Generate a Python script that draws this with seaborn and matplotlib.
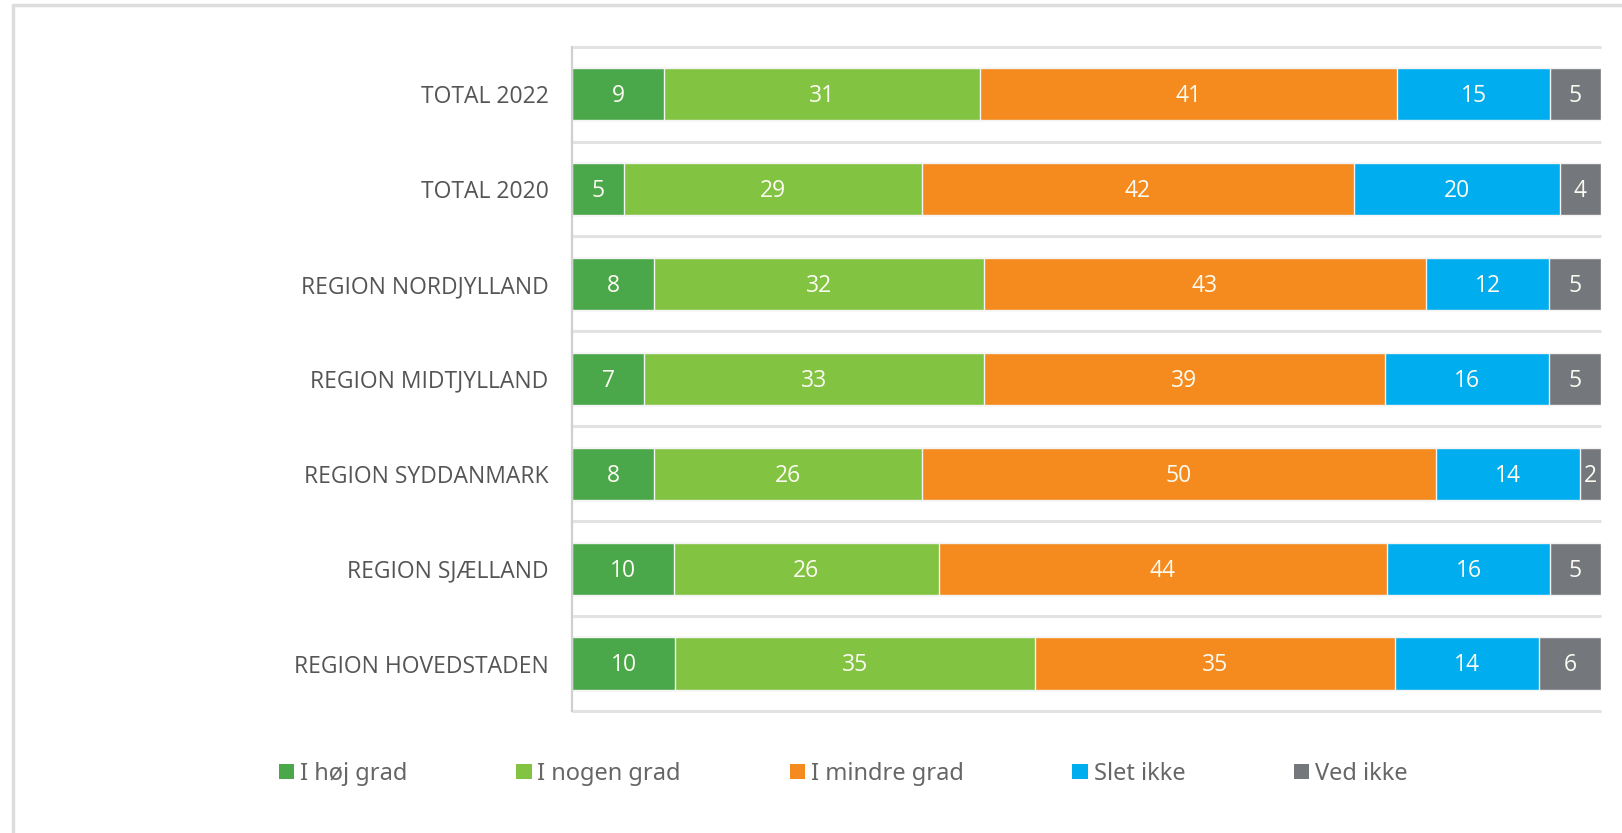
"""Stacked horizontal bars: share of answers per region."""

import matplotlib.pyplot as plt
import numpy as np
import pandas as pd
import seaborn as sns
from matplotlib.lines import Line2D
from matplotlib.patches import Patch


CATEGORIES = [
    "TOTAL 2022",
    "TOTAL 2020",
    "REGION NORDJYLLAND",
    "REGION MIDTJYLLAND",
    "REGION SYDDANMARK",
    "REGION SJÆLLAND",
    "REGION HOVEDSTADEN",
]
SERIES = ["I høj grad", "I nogen grad", "I mindre grad", "Slet ikke", "Ved ikke"]

HOEJ_GRAD = [9, 5, 8, 7, 8, 10, 10]
NOGEN_GRAD = [31, 29, 32, 33, 26, 26, 35]
MINDRE_GRAD = [41, 42, 43, 39, 50, 44, 35]
SLET_IKKE = [15, 20, 12, 16, 14, 16, 14]
VED_IKKE = [5, 4, 5, 5, 2, 5, 6]

COLORS = ["#4aa84a", "#82c341", "#f58b1f", "#00aeef", "#74777c"]
TEXT_GRAY = "#555555"


def main() -> None:
    sns.set_theme(style="white")
    plt.rcParams["font.family"] = ["Open Sans", "DejaVu Sans"]

    values = np.array([HOEJ_GRAD, NOGEN_GRAD, MINDRE_GRAD, SLET_IKKE, VED_IKKE], dtype=float)
    shares = values / values.sum(axis=0) * 100
    cumulative = np.cumsum(shares, axis=0)

    fig = plt.figure(figsize=(16.22, 8.33), dpi=100)
    ax = fig.add_axes([0.3527, 0.1465, 0.987 - 0.3527, 0.944 - 0.1465])

    # draw cumulative bars from the full length down so each segment shows
    for i in reversed(range(len(SERIES))):
        frame = pd.DataFrame({"category": CATEGORIES, "value": cumulative[i]})
        sns.barplot(
            data=frame,
            x="value",
            y="category",
            order=CATEGORIES,
            color=COLORS[i],
            saturation=1,
            width=0.55,
            errorbar=None,
            edgecolor="#f4f4f4",
            linewidth=1.0,
            ax=ax,
        )

    for i in range(len(SERIES)):
        starts = cumulative[i] - shares[i]
        for row, (start, width) in enumerate(zip(starts, shares[i])):
            ax.text(
                start + width / 2,
                row + 0.02,
                f"{values[i, row]:.0f}",
                ha="center",
                va="center",
                color="#fbfbf2",
                fontsize=16.5,
            )

    ax.hlines(
        np.arange(len(CATEGORIES) + 1) - 0.5,
        0,
        100,
        color="#e2e2e2",
        linewidth=2.2,
        clip_on=False,
        zorder=0,
    )

    ax.set_xlim(0, 100)
    ax.set_ylim(len(CATEGORIES) - 0.5, -0.5)
    ax.set_xlabel("")
    ax.set_ylabel("")
    ax.set_xticks([])
    ax.tick_params(axis="y", length=0, pad=17, labelsize=16.5, labelcolor=TEXT_GRAY)
    for side in ["top", "right", "bottom"]:
        ax.spines[side].set_visible(False)
    ax.spines["left"].set_color("#d0d0d0")
    ax.spines["left"].set_linewidth(1.6)

    handles = [Patch(facecolor=c, edgecolor="none") for c in COLORS]
    fig.legend(
        handles,
        SERIES,
        loc="center left",
        bbox_to_anchor=(0.172, 0.071),
        ncol=5,
        frameon=False,
        borderpad=0,
        borderaxespad=0,
        handlelength=0.65,
        handleheight=0.65,
        handletextpad=0.25,
        columnspacing=4.6,
        prop={"family": ["Noto Sans", "DejaVu Sans"], "size": 17},
        labelcolor="#666666",
    )

    # light frame around the figure (left and top edges)
    frame_color = "#dddddd"
    fig.add_artist(Line2D([13 / 1622, 13 / 1622], [0, 1 - 5 / 833],
                          transform=fig.transFigure, color=frame_color, linewidth=2.5))
    fig.add_artist(Line2D([13 / 1622, 1], [1 - 5 / 833, 1 - 5 / 833],
                          transform=fig.transFigure, color=frame_color, linewidth=2.5))

    fig.savefig("out.png", dpi=100)
    plt.close(fig)


if __name__ == "__main__":
    main()
